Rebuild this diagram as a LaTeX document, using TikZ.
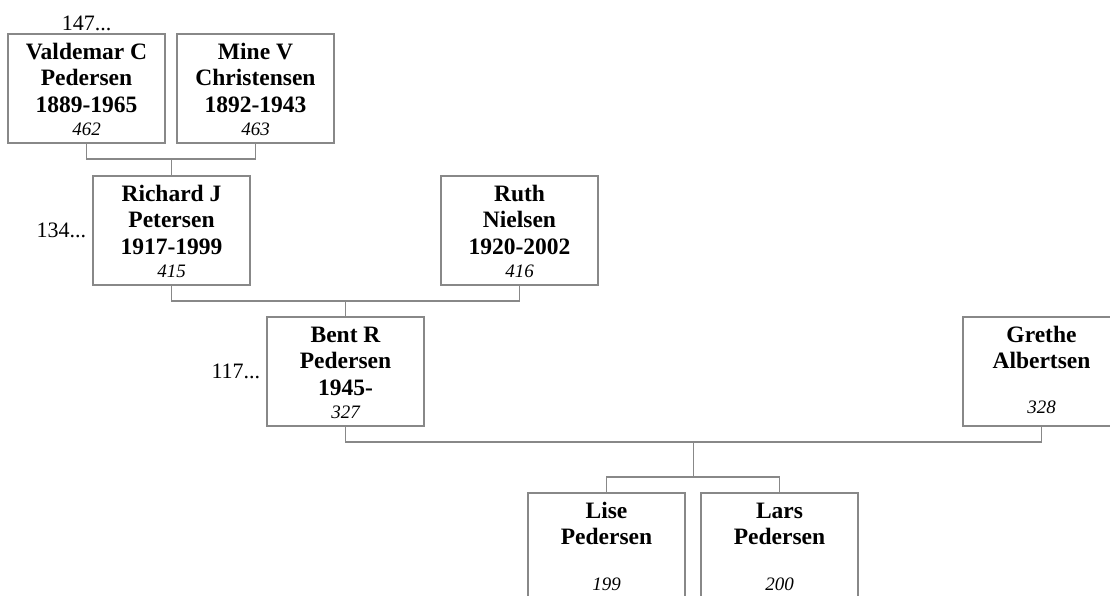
\documentclass[tikz,border=0pt]{standalone}
\usepackage{fontspec}
\setmainfont{Liberation Serif}
\usetikzlibrary{positioning}
\definecolor{linegray}{RGB}{136,136,136}
\newcommand{\person}[5][0pt]{#2\strut\\#3\strut\\#4\strut\\[-3pt]\raisebox{#1}[\height][\depth]{\fontsize{19}{23}\selectfont\mdseries\itshape #5}}

\begin{document}
\begin{tikzpicture}[x=1pt,y=-1pt,
  pbox/.style={draw=linegray,line width=1.2pt,minimum width=157pt,minimum height=109pt,inner sep=2pt,
    font=\fontsize{23.5}{26.5}\selectfont\bfseries,align=center},
  lab/.style={font=\fontsize{22}{24}\selectfont,inner sep=2pt},
  conn/.style={draw=linegray,line width=1.2pt}]
\useasboundingbox (0,0) rectangle (1110,596);
\node[pbox] (vald) at (86.5,88.5) {\person{Valdemar C}{Pedersen}{1889-1965}{462}};
\node[pbox] (mine) at (255.5,88.5) {\person{Mine V}{Christensen}{1892-1943}{463}};
\node[pbox] (rich) at (171.5,230.5) {\person{Richard J}{Petersen}{1917-1999}{415}};
\node[pbox] (ruth) at (519.5,230.5) {\person{Ruth}{Nielsen}{1920-2002}{416}};
\node[pbox] (bent) at (345.5,371.5) {\person{Bent R}{Pedersen}{1945-}{327}};
\node[pbox] (greth) at (1041.5,371.5) {\person[5pt]{Grethe}{Albertsen}{}{328}};
\node[pbox] (lise) at (606.5,547.5) {\person[4pt]{Lise}{Pedersen}{}{199}};
\node[pbox] (lars) at (779.5,547.5) {\person[4pt]{Lars}{Pedersen}{}{200}};
\node[lab,above=0pt of vald] (l147) {147...};
\node[lab,left=4pt of rich] (l134) {134...};
\node[lab,left=4pt of bent] (l117) {117...};
\coordinate (jA) at (171.5,159);
\coordinate (jB) at (345.5,301);
\coordinate (jC) at (693.5,442);
\coordinate (jD) at (693.5,477);
\draw[conn] (vald.south) |- (jA) -| (mine.south);
\draw[conn] (jA) -- (rich.north);
\draw[conn] (rich.south) |- (jB) -| (ruth.south);
\draw[conn] (jB) -- (bent.north);
\draw[conn] (bent.south) |- (jC) -| (greth.south);
\draw[conn] (jC) -- (jD);
\draw[conn] (lise.north) |- (jD) -| (lars.north);
\end{tikzpicture}
\end{document}
